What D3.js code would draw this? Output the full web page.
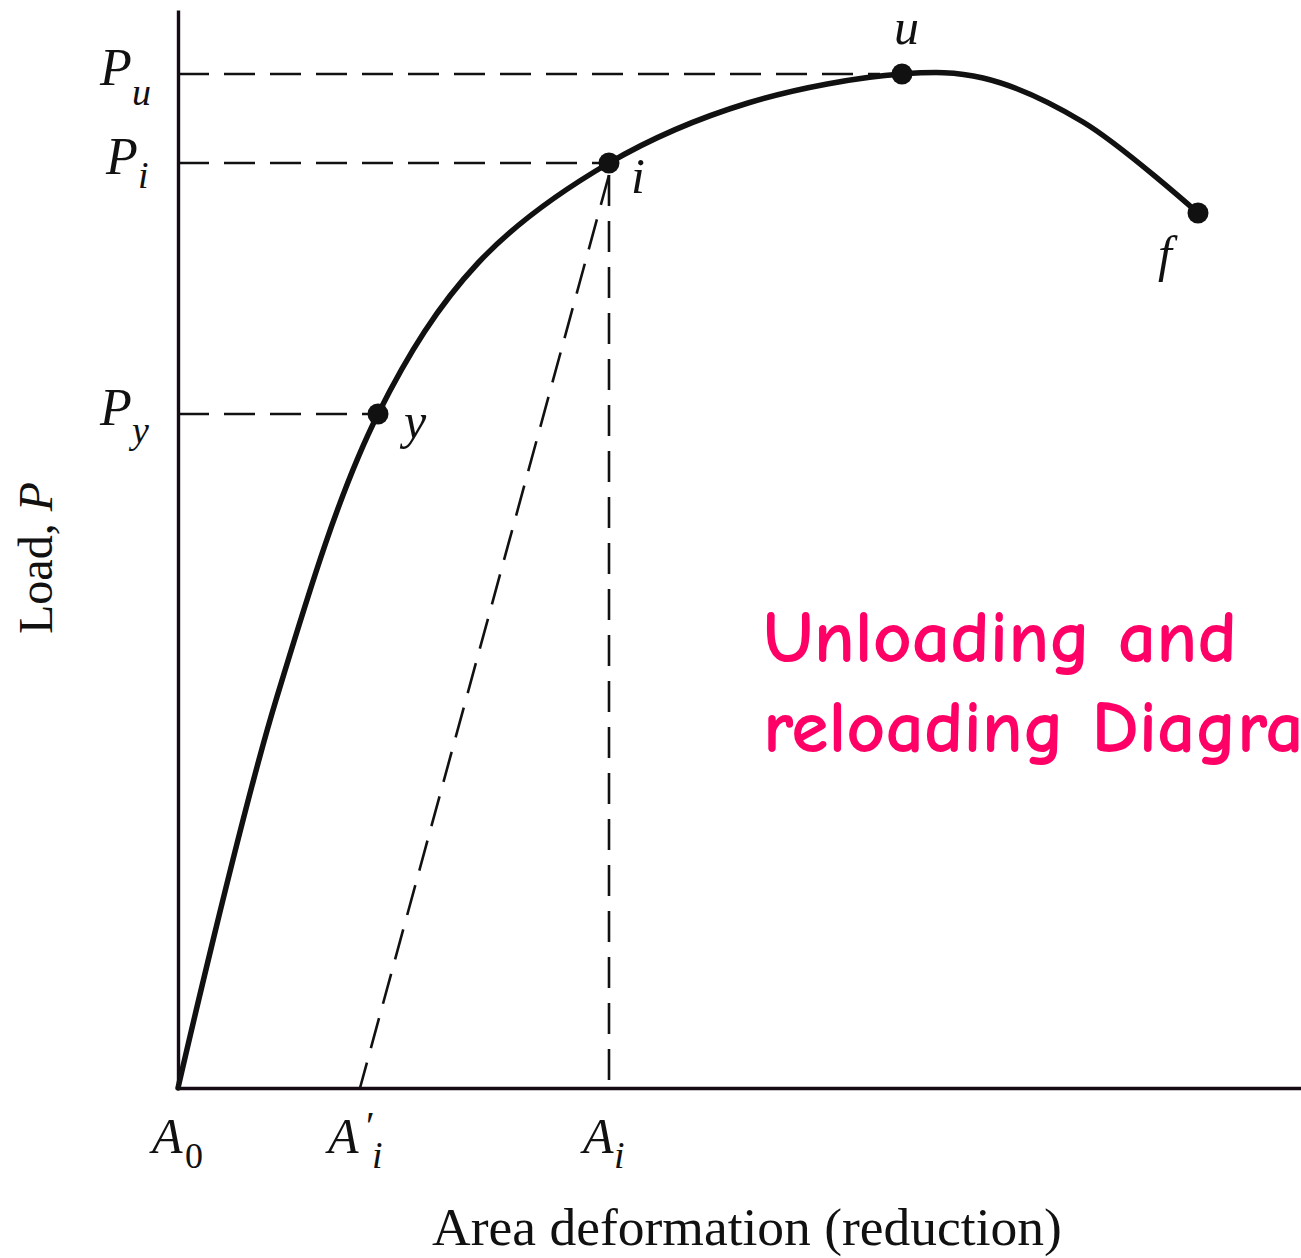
<!DOCTYPE html>
<html><head><meta charset="utf-8">
<script src="https://cdn.jsdelivr.net/npm/d3@7"></script>
<style>html,body{margin:0;padding:0;background:#fff;overflow:hidden}</style>
</head><body>
<svg id="c" width="1301" height="1258"></svg>
<script>
// Data (abstract units: area deformation vs load)
const curveX = [0, 9.8, 20, 30, 43.1, 57, 72.4, 80.5, 90.5, 102.0];
const curveY = [0, 38.8, 67.4, 82.5, 92.5, 98.5, 101.4, 101.0, 96.6, 87.5];
const pointNames = ["y", "i", "u", "f"];
const pointX = [20, 43.1, 72.4, 102.0];
const pointY = [67.4, 92.5, 101.4, 87.5];
const loadLevels = ["u", "i", "y"];
const loadValues = [101.4, 92.5, 67.4];
const loadEnds = [70.2, 42.2, 19.2];
const areaLabels = ["0", "'i", "i"];
const areaValues = [0, 18.2, 43.1];

const svg = d3.select("#c");
const x = d3.scaleLinear().domain([0, 112.3]).range([178, 1301]);
const y = d3.scaleLinear().domain([0, 107.8]).range([1088, 10]);
const ink = "#111";

// axes (domain lines only)
const gx = svg.append("g").attr("transform", `translate(0,${y(0)})`)
  .call(d3.axisBottom(x).tickValues([]).tickSizeOuter(0));
const gy = svg.append("g").attr("transform", `translate(${x(0)},0)`)
  .call(d3.axisLeft(y).tickValues([]).tickSizeOuter(0));
[gx, gy].forEach(g => g.select(".domain").attr("stroke", "#160a14").attr("stroke-width", 3.4));

const dash = "31,15";
// horizontal dashed load lines
loadValues.forEach((v, k) => {
  svg.append("line").attr("x1", x(0)).attr("x2", x(loadEnds[k]))
    .attr("y1", y(v)).attr("y2", y(v))
    .attr("stroke", ink).attr("stroke-width", 2.6).attr("stroke-dasharray", dash);
});
// vertical dashed from i
svg.append("line").attr("x1", x(pointX[1])).attr("x2", x(pointX[1]))
  .attr("y1", y(pointY[1]) + 12).attr("y2", y(0))
  .attr("stroke", ink).attr("stroke-width", 2.6).attr("stroke-dasharray", "31,15");
// unloading dashed line
svg.append("line").attr("x1", x(pointX[1])).attr("y1", y(pointY[1]) + 12)
  .attr("x2", x(areaValues[1])).attr("y2", y(0))
  .attr("stroke", ink).attr("stroke-width", 2.6).attr("stroke-dasharray", "31,15");

// curve
const pts = curveX.map((v, k) => [v, curveY[k]]);
svg.append("path").datum(pts)
  .attr("d", d3.line().x(d => x(d[0])).y(d => y(d[1])).curve(d3.curveCatmullRom.alpha(0.5)))
  .attr("fill", "none").attr("stroke", ink).attr("stroke-width", 5.5).attr("stroke-linecap", "round");

// points
pointX.forEach((v, k) => {
  svg.append("circle").attr("cx", x(v)).attr("cy", y(pointY[k])).attr("r", 10.5).attr("fill", ink);
});

const serif = "'Liberation Serif','Times New Roman',serif";
function txt(px, py, s, size, italic, anchor) {
  return svg.append("text").attr("x", px).attr("y", py).text(s)
    .attr("font-family", serif).attr("font-size", size)
    .attr("font-style", italic ? "italic" : "normal")
    .attr("text-anchor", anchor || "start").attr("fill", ink);
}
// point labels
const pointLabelDx = [26, 22, -8, -40];
const pointLabelDy = [24, 30, -30, 58];
pointNames.forEach((n, k) => {
  txt(x(pointX[k]) + pointLabelDx[k], y(pointY[k]) + pointLabelDy[k], n, 50, true);
});

// load labels P_u, P_i, P_y (single text with subscript tspan)
const subDy = [20, 14, 18];
loadLevels.forEach((n, k) => {
  const yy = y(loadValues[k]);
  const px = k === 1 ? 106 : 100;
  const t = txt(px, yy + 11, "", 52, true);
  t.append("tspan").text("P");
  t.append("tspan").attr("x", px + 32).attr("dy", subDy[k]).attr("font-size", 38).text(n);
});

// area labels
areaValues.forEach((v, k) => {
  const cx = x(v);
  const lab = areaLabels[k];
  const t = txt(cx - (lab === "'i" ? 32 : 26), 1153, "", 50, true);
  t.append("tspan").text("A");
  if (lab === "0") {
    t.append("tspan").attr("x", cx + 7).attr("dy", 15).attr("font-size", 36).attr("font-style", "normal").text("0");
  } else if (lab === "'i") {
    t.append("tspan").attr("x", cx + 6).attr("dy", -14).attr("font-size", 40).attr("font-style", "normal").text("\u2032");
    t.append("tspan").attr("x", cx + 12).attr("dy", 29).attr("font-size", 38).text("i");
  } else {
    t.append("tspan").attr("x", cx + 5).attr("dy", 15).attr("font-size", 38).text("i");
  }
});

// axis titles
const lt = svg.append("text").attr("transform", "translate(52,558) rotate(-90)")
  .attr("text-anchor", "middle").attr("font-family", serif).attr("font-size", 48).attr("fill", ink);
lt.append("tspan").text("Load, ");
lt.append("tspan").attr("font-style", "italic").text("P");

const xt = txt(747, 1245, "Area deformation (reduction)", 50, false, "middle");
const xw = xt.node().getComputedTextLength();
xt.attr("font-size", 50 * 630 / xw);

// pink annotation
const pinkFont = "'Comic Sans MS','Comic Neue','Open Sans','DejaVu Sans',sans-serif";
const t1 = svg.append("text").attr("x", 763).attr("y", 662).text("Unloading and")
  .attr("font-family", pinkFont).attr("font-weight", 700).attr("font-size", 64).attr("fill", "#ff0066");
const w = t1.node().getComputedTextLength();
const fs = 64 * 474 / w;
t1.attr("font-size", fs);
svg.append("text").attr("x", 763).attr("y", 752).text("reloading Diagram")
  .attr("font-family", pinkFont).attr("font-weight", 700).attr("font-size", fs).attr("fill", "#ff0066");
</script>
</body></html>
